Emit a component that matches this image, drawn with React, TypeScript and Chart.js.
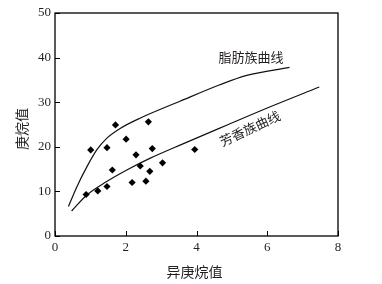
import React, { useEffect, useRef } from "react";
import { Chart, registerables } from "chart.js";

Chart.register(...registerables);

// Scatter samples (异庚烷值, 庚烷值)
const sampleX = [0.88, 1.01, 1.21, 1.47, 1.47, 1.62, 1.71, 2.01, 2.18, 2.29, 2.41, 2.57, 2.64, 2.68, 2.75, 3.04, 3.95];
const sampleY = [9.3, 19.3, 10.1, 11.1, 19.8, 14.8, 24.9, 21.7, 12.0, 18.2, 15.7, 12.3, 25.6, 14.5, 19.6, 16.4, 19.4];

// 脂肪族曲线
const aliphaticX = [0.38, 0.61, 0.9, 1.18, 1.46, 1.84, 2.4, 3.53, 4.66, 5.42, 6.63];
const aliphaticY = [6.6, 10.9, 15.5, 19.3, 21.9, 24.1, 26.4, 30.2, 33.9, 36.0, 37.8];

// 芳香族曲线
const aromaticX = [0.47, 0.9, 1.46, 2.03, 2.68, 3.6, 4.9, 6.0, 7.47];
const aromaticY = [5.6, 9.2, 12.2, 14.8, 17.4, 20.6, 25.0, 28.7, 33.4];

const xTicks = [0, 2, 4, 6, 8];
const yTicks = [0, 10, 20, 30, 40, 50];

const xTitle = "异庚烷值";
const yTitle = "庚烷值";
const aliphaticLabel = "脂肪族曲线";
const aromaticLabel = "芳香族曲线";

const TEXT = "#231f20";
const CJK = '"Noto Sans CJK SC", sans-serif';
const SERIF = '"Liberation Serif", "Times New Roman", serif';

const toPoints = (xs: number[], ys: number[]) => xs.map((x, i) => ({ x, y: ys[i] }));

const decorPlugin = {
  id: "decor",
  afterDraw(chart: any) {
    const { ctx, chartArea, scales } = chart;
    const xs = scales.x;
    const ys = scales.y;
    ctx.save();
    // frame
    ctx.strokeStyle = "#000";
    ctx.lineWidth = 1.3;
    ctx.strokeRect(chartArea.left, chartArea.top, chartArea.right - chartArea.left, chartArea.bottom - chartArea.top);
    // inward ticks
    ctx.lineWidth = 1;
    ctx.beginPath();
    xTicks.forEach((v) => {
      const px = Math.round(xs.getPixelForValue(v)) + 0.5;
      ctx.moveTo(px, chartArea.bottom);
      ctx.lineTo(px, chartArea.bottom - 5);
    });
    yTicks.forEach((v) => {
      const py = Math.round(ys.getPixelForValue(v)) + 0.5;
      ctx.moveTo(chartArea.left, py);
      ctx.lineTo(chartArea.left + 5, py);
    });
    ctx.stroke();

    ctx.fillStyle = TEXT;
    ctx.textAlign = "center";
    ctx.textBaseline = "middle";
    // x title
    ctx.font = `14px ${CJK}`;
    ctx.fillText(xTitle, (chartArea.left + chartArea.right) / 2 - 2, 272);
    // y title
    ctx.save();
    ctx.translate(22, 129);
    ctx.rotate(-Math.PI / 2);
    ctx.fillText(yTitle, 0, 0);
    ctx.restore();

    // curve labels
    ctx.font = `13px ${CJK}`;
    ctx.fillText(aliphaticLabel, xs.getPixelForValue(5.54), ys.getPixelForValue(40.1));
    ctx.save();
    ctx.translate(xs.getPixelForValue(5.51), ys.getPixelForValue(24.1));
    ctx.rotate((-25 * Math.PI) / 180);
    ctx.fillText(aromaticLabel, 0, 0);
    ctx.restore();
    ctx.restore();
  },
};

export default function App() {
  const ref = useRef<HTMLCanvasElement | null>(null);
  useEffect(() => {
    document.body.style.margin = "0";
    if (!ref.current) return;
    const chart = new Chart(ref.current, {
      type: "scatter",
      data: {
        datasets: [
          {
            data: toPoints(sampleX, sampleY),
            pointStyle: "rectRot",
            pointRadius: 3.6,
            pointBorderWidth: 0,
            backgroundColor: "#000",
            borderColor: "#000",
            showLine: false,
          },
          {
            data: toPoints(aliphaticX, aliphaticY),
            showLine: true,
            pointRadius: 0,
            borderColor: "#111",
            borderWidth: 1.2,
            cubicInterpolationMode: "monotone",
          },
          {
            data: toPoints(aromaticX, aromaticY),
            showLine: true,
            pointRadius: 0,
            borderColor: "#111",
            borderWidth: 1.2,
            cubicInterpolationMode: "monotone",
          },
        ],
      } as any,
      options: {
        animation: false,
        responsive: false,
        layout: { padding: { top: 13, right: 44, left: 0, bottom: 0 } },
        plugins: { legend: { display: false }, tooltip: { enabled: false } },
        scales: {
          x: {
            type: "linear",
            min: 0,
            max: 8,
            afterBuildTicks: (s: any) => {
              s.ticks = xTicks.map((v) => ({ value: v }));
            },
            afterFit: (s: any) => {
              s.height = 48;
            },
            grid: { display: false, drawTicks: false },
            border: { display: false },
            ticks: {
              padding: 4,
              color: TEXT,
              font: { family: SERIF, size: 13 },
              maxRotation: 0,
            },
          },
          y: {
            type: "linear",
            min: 0,
            max: 50,
            afterBuildTicks: (s: any) => {
              s.ticks = yTicks.map((v) => ({ value: v }));
            },
            afterFit: (s: any) => {
              s.width = 55;
            },
            grid: { display: false, drawTicks: false },
            border: { display: false },
            ticks: {
              padding: 4,
              color: TEXT,
              font: { family: SERIF, size: 13 },
            },
          },
        },
      } as any,
      plugins: [decorPlugin],
    });
    return () => chart.destroy();
  }, []);
  return <canvas ref={ref} width={382} height={284} style={{ display: "block", width: 382, height: 284 }} />;
}
